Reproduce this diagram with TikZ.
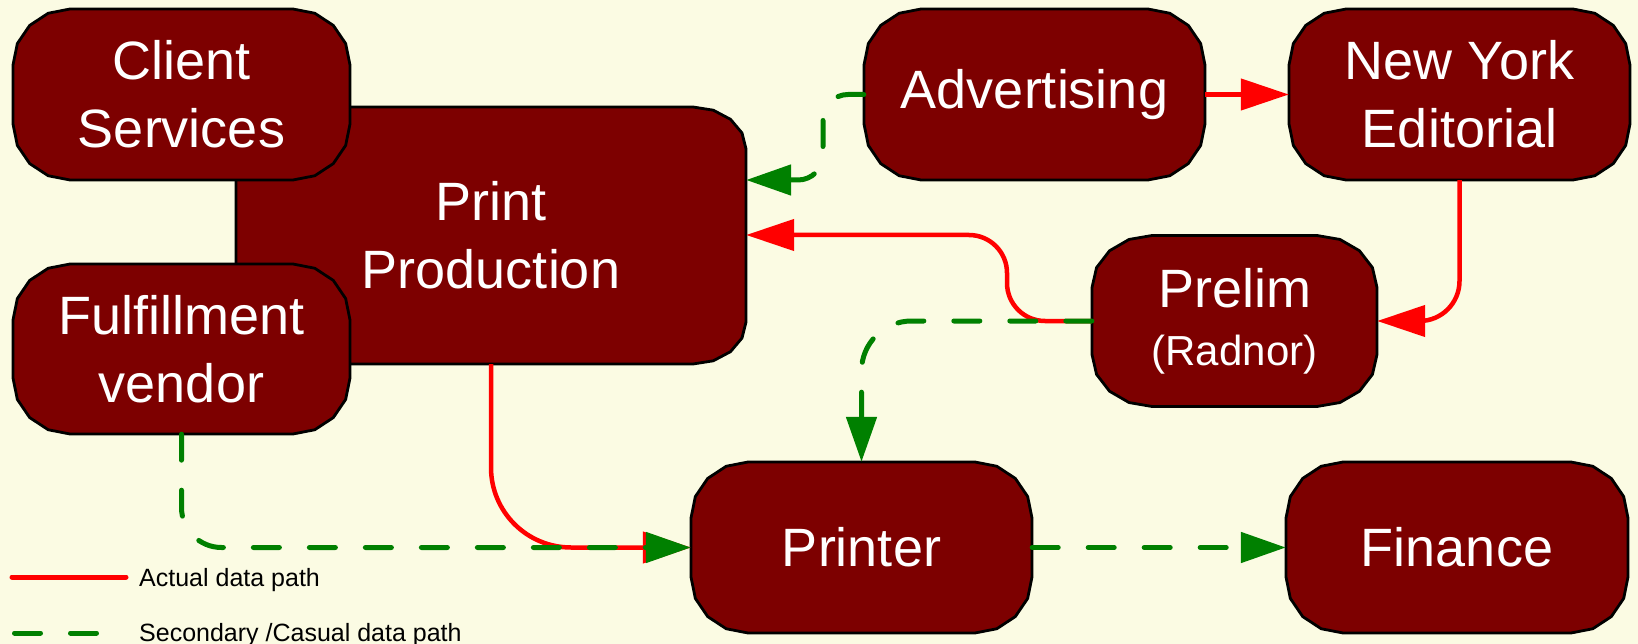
\documentclass[tikz,border=0pt]{standalone}
\usepackage{fontspec}
\setmainfont{Liberation Sans}
\usetikzlibrary{arrows.meta}
\definecolor{bg}{RGB}{251,251,227}
\definecolor{boxred}{RGB}{125,0,0}
\definecolor{lred}{RGB}{255,0,0}
\definecolor{lgreen}{RGB}{0,128,0}
% #1 name, #2 cx, #3 cy, #4 w, #5 h, #6 rx, #7 ry, #8 text
\newcommand\polybox[8]{%
  \pgfmathsetmacro\pbxa{#2-#4/2}\pgfmathsetmacro\pbxb{#2+#4/2}%
  \pgfmathsetmacro\pbya{#3-#5/2}\pgfmathsetmacro\pbyb{#3+#5/2}%
  \pgfmathsetmacro\pbrx{#6}\pgfmathsetmacro\pbry{#7}%
  \pgfmathsetmacro\pbxA{\pbrx*0.6173}\pgfmathsetmacro\pbxB{\pbrx*0.2929}\pgfmathsetmacro\pbxC{\pbrx*0.0761}%
  \pgfmathsetmacro\pbyA{\pbry*0.6173}\pgfmathsetmacro\pbyB{\pbry*0.2929}\pgfmathsetmacro\pbyC{\pbry*0.0761}%
  \path[boxshape] (\pbxa+\pbrx,\pbya) -- (\pbxb-\pbrx,\pbya)
    -- (\pbxb-\pbxA,\pbya+\pbyC) -- (\pbxb-\pbxB,\pbya+\pbyB) -- (\pbxb-\pbxC,\pbya+\pbyA) -- (\pbxb,\pbya+\pbry)
    -- (\pbxb,\pbyb-\pbry)
    -- (\pbxb-\pbxC,\pbyb-\pbyA) -- (\pbxb-\pbxB,\pbyb-\pbyB) -- (\pbxb-\pbxA,\pbyb-\pbyC) -- (\pbxb-\pbrx,\pbyb)
    -- (\pbxa+\pbrx,\pbyb)
    -- (\pbxa+\pbxA,\pbyb-\pbyC) -- (\pbxa+\pbxB,\pbyb-\pbyB) -- (\pbxa+\pbxC,\pbyb-\pbyA) -- (\pbxa,\pbyb-\pbry)
    -- (\pbxa,\pbya+\pbry)
    -- (\pbxa+\pbxC,\pbya+\pbyA) -- (\pbxa+\pbxB,\pbya+\pbyB) -- (\pbxa+\pbxA,\pbya+\pbyC) -- cycle;
  \node[boxtext, minimum width=#4pt, minimum height=#5pt] (#1) at (#2,#3) {#8};%
}
\begin{document}
\begin{tikzpicture}[x=1pt,y=-1pt,
  boxshape/.style={draw=black, line width=2.8pt, fill=boxred, line join=round},
  boxtext/.style={inner sep=0pt, text=white, align=center, font=\fontsize{54}{68}\selectfont},
  actual/.style={draw=lred, line width=4.5pt},
  casual/.style={draw=lgreen, line width=5pt, dash pattern=on 26pt off 30pt, line cap=round},
  redtip/.style={-{Triangle[length=48pt,width=31pt]}},
  greentip/.style={-{Triangle[length=45pt,width=30pt]}},
  legtext/.style={anchor=base west, inner sep=0pt, text=black, font=\fontsize{25}{30}\selectfont},
]
\fill[bg] (0,0) rectangle (1638,644);
\useasboundingbox (0,0) rectangle (1638,644);

% boxes
\polybox{pp}{491}{235.5}{510}{257}{53}{42}{Print\\Production}
\polybox{cs}{181.5}{94.5}{337}{171}{57}{56}{Client\\Services}
\polybox{ff}{181.5}{349}{337}{170}{57}{56}{Fulfillment\\vendor}
\polybox{adv}{1034.5}{94.5}{341}{171}{57}{56}{Advertising}
\polybox{ny}{1459.5}{94.5}{341}{171}{57}{56}{New York\\Editorial}
\polybox{pre}{1234.5}{321}{285}{171}{60}{52}{Prelim\\[-10pt]{\fontsize{42}{50}\selectfont(Radnor)}}
\polybox{prn}{861.5}{547.5}{341}{171}{57}{56}{Printer}
\polybox{fin}{1457}{547.5}{342}{171}{57}{56}{Finance}

% helper coordinates
\coordinate (r3) at (1007,235);
\coordinate (g1) at (823,180);

% red (actual) connectors
\draw[actual, redtip] (adv.east) -- (ny.west);
\draw[actual, redtip, rounded corners=40pt] (ny.south) -- (ny.south |- pre.east) -- (pre.east);
\draw[actual, redtip, rounded corners=38pt] (pre.west) -- (r3 |- pre.west) -- (r3) -- (pp.east |- r3);
\draw[actual, redtip, rounded corners=80pt] (pp.south) -- (pp.south |- prn.west) -- (prn.west);

% green (casual) connectors
\draw[casual, greentip, rounded corners=25pt] (adv.west) -- (g1 |- adv.west) -- (g1) -- (pp.east |- g1);
\draw[casual, greentip, rounded corners=50pt] (pre.west) -- (prn.north |- pre.west) -- (prn.north);
\draw[casual, greentip, rounded corners=40pt] (ff.south) -- (ff.south |- prn.west) -- (prn.west);
\draw[casual, greentip] (prn.east) -- (fin.west);

% legend
\coordinate (la1) at (12,577);
\coordinate (la2) at (126,577);
\coordinate (lb1) at (14.5,633);
\coordinate (lb2) at (126,633);
\draw[actual, line width=5pt, line cap=round] (la1) -- (la2);
\draw[casual] (lb1) -- (lb2);
\node[legtext] (lt1) at (139,586) {Actual data path};
\node[legtext] (lt2) at (139,641) {Secondary /Casual data path};
\end{tikzpicture}
\end{document}
